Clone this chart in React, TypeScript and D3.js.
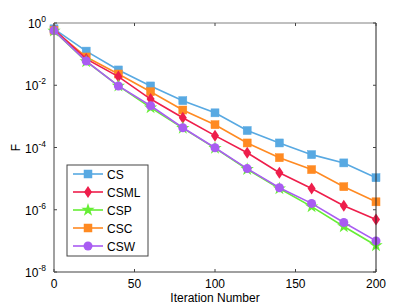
import React from 'react';
import * as d3 from 'd3';

const iterations = [0, 20, 40, 60, 80, 100, 120, 140, 160, 180, 200];

const csValues = [0.65, 0.125, 0.031, 0.0095, 0.0032, 0.0013, 3.5e-4, 1.4e-4, 5.9e-5, 3.2e-5, 1.07e-5];
const csmlValues = [0.62, 0.07, 0.019, 0.0036, 9e-4, 2.4e-4, 6.8e-5, 1.55e-5, 4.8e-6, 1.35e-6, 4.9e-7];
const cspValues = [0.56, 0.058, 0.0095, 0.0019, 4.2e-4, 9.5e-5, 2.0e-5, 4.8e-6, 1.26e-6, 2.9e-7, 7.1e-8];
const cscValues = [0.58, 0.081, 0.023, 0.0062, 0.0016, 5.4e-4, 1.4e-4, 4.7e-5, 1.95e-5, 5.5e-6, 1.8e-6];
const cswValues = [0.57, 0.06, 0.0095, 0.0022, 4.3e-4, 9.8e-5, 2.1e-5, 5.1e-6, 1.6e-6, 3.9e-7, 1.0e-7];

const seriesNames = ['CS', 'CSML', 'CSP', 'CSC', 'CSW'];
const seriesColors = ['#58A9E2', '#EE1E4B', '#66EE35', '#FF8A22', '#A95CF2'];
const seriesMarkers = ['square', 'diamond', 'star', 'square', 'circle'];
const seriesValues = [csValues, csmlValues, cspValues, cscValues, cswValues];
// draw order: green first so purple sits on top like the original
const drawOrder = [0, 3, 1, 2, 4];

const xTicks = [0, 50, 100, 150, 200];
const yTickExps = [0, -2, -4, -6, -8];

const width = 415;
const height = 307;
const margin = { top: 23, right: 39, bottom: 35, left: 54 };

function marker(kind: string, x: number, y: number, color: string, key?: string) {
  if (kind === 'square') {
    return <rect key={key} x={x - 4} y={y - 4} width={8} height={8} fill={color} stroke={color} strokeWidth={0.5} />;
  }
  if (kind === 'circle') {
    return <circle key={key} cx={x} cy={y} r={4.5} fill={color} />;
  }
  if (kind === 'diamond') {
    const p = `${x},${y - 6} ${x + 4},${y} ${x},${y + 6} ${x - 4},${y}`;
    return <polygon key={key} points={p} fill={color} />;
  }
  const sym = d3.symbol(d3.symbolStar, 55)();
  return <path key={key} d={sym || ''} transform={`translate(${x},${y})`} fill={color} />;
}

export default function App() {
  const x = d3.scaleLinear().domain([0, 200]).range([margin.left, width - margin.right]);
  const y = d3.scaleLog().domain([1e-8, 1]).range([height - margin.bottom, margin.top]);
  const x0 = margin.left;
  const x1 = width - margin.right;
  const y0 = height - margin.bottom;
  const y1 = margin.top;
  const font = 'Liberation Sans, Arial, Helvetica, sans-serif';

  const line = d3.line<number>()
    .x((_, i) => x(iterations[i]))
    .y(d => y(d));

  const legendX = 67;
  const legendY = 165;
  const legendRow = 18;

  return (
    <svg width={width} height={height} style={{ position: 'absolute', left: 0, top: 0, background: '#fff' }}>
      {/* series */}
      {drawOrder.map(s => (
        <g key={seriesNames[s]}>
          <path d={line(seriesValues[s]) || ''} fill="none" stroke={seriesColors[s]} strokeWidth={1.6} />
          {seriesValues[s].map((v, i) => marker(seriesMarkers[s], x(iterations[i]), y(v), seriesColors[s], `${s}-${i}`))}
        </g>
      ))}

      {/* box */}
      <line x1={x0} x2={x1} y1={y1} y2={y1} stroke="#808080" />
      <line x1={x0} x2={x0} y1={y1} y2={y0} stroke="#808080" strokeWidth={1.5} />
      <line x1={x0} x2={x1} y1={y0} y2={y0} stroke="#808080" strokeWidth={1.5} />
      <line x1={x1} x2={x1} y1={y1} y2={y0} stroke="#222" />

      {/* x ticks */}
      {xTicks.map(t => (
        <g key={'x' + t}>
          <line x1={x(t)} x2={x(t)} y1={y0} y2={y0 - 3} stroke="#444" />
          <line x1={x(t)} x2={x(t)} y1={y1} y2={y1 + 3} stroke="#444" />
          <text x={x(t)} y={y0 + 16} textAnchor="middle" fontFamily={font} fontSize={12}>{t}</text>
        </g>
      ))}

      {/* y ticks */}
      {yTickExps.map(e => (
        <g key={'y' + e}>
          <line x1={x0} x2={x0 + 3} y1={y(Math.pow(10, e))} y2={y(Math.pow(10, e))} stroke="#444" />
          <line x1={x1} x2={x1 - 3} y1={y(Math.pow(10, e))} y2={y(Math.pow(10, e))} stroke="#444" />
          <text x={x0 - 8} y={y(Math.pow(10, e)) + 5} textAnchor="end" fontFamily={font} fontSize={12}>
            10<tspan dy={-6} fontSize={8.5}>{e}</tspan>
          </text>
        </g>
      ))}

      {/* axis labels */}
      <text x={(x0 + x1) / 2} y={y0 + 30} textAnchor="middle" fontFamily={font} fontSize={12}>Iteration Number</text>
      <text transform={`translate(20,${(y0 + y1) / 2}) rotate(-90)`} textAnchor="middle" fontFamily={font} fontSize={12}>F</text>

      {/* legend */}
      <rect x={legendX} y={legendY} width={81} height={91} fill="#fff" stroke="#444" />
      {seriesNames.map((name, i) => {
        const ly = legendY + 9 + i * legendRow;
        return (
          <g key={'leg' + name}>
            <line x1={legendX + 6} x2={legendX + 36} y1={ly} y2={ly} stroke={seriesColors[i]} strokeWidth={1.6} />
            {marker(seriesMarkers[i], legendX + 21, ly, seriesColors[i])}
            <text x={legendX + 40} y={ly + 4.5} fontFamily={font} fontSize={12}>{name}</text>
          </g>
        );
      })}
    </svg>
  );
}
